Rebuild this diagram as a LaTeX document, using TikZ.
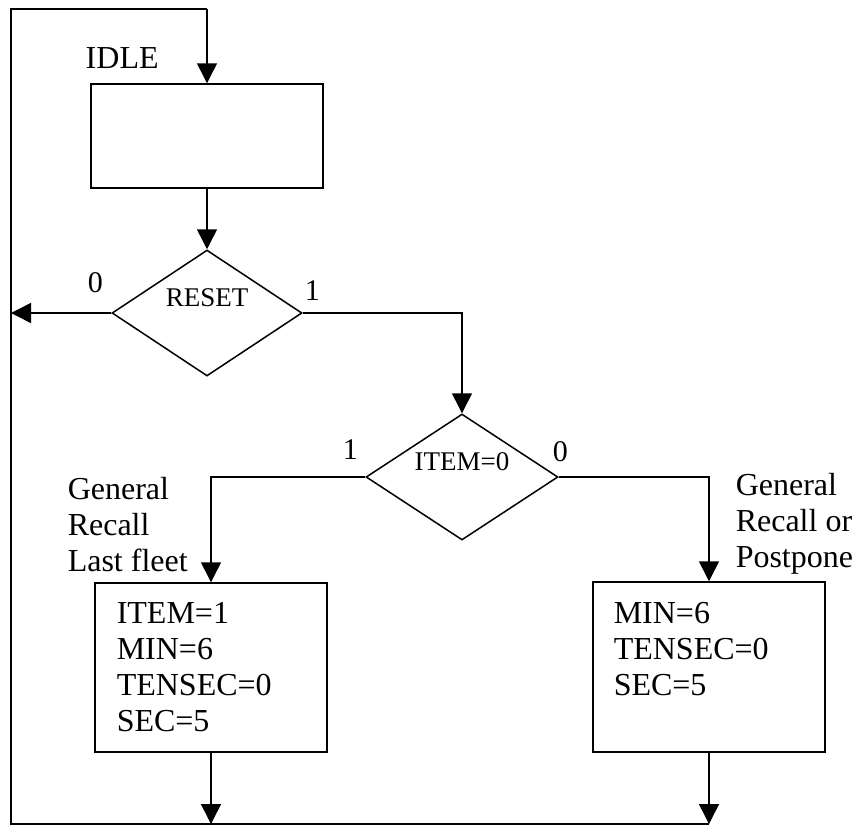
\documentclass[tikz,border=0pt]{standalone}
\usepackage{fontspec}
\setmainfont{Liberation Serif}
\usetikzlibrary{shapes.geometric,arrows.meta}
\begin{document}
\begin{tikzpicture}[x=.5pt,y=-.5pt,line width=.75pt,>={Triangle[length=10pt,width=10pt]},
 font=\fontsize{16}{18}\selectfont,
 state/.style={draw,rectangle,minimum width=116pt,inner sep=0pt},
 decision/.style={draw,diamond,aspect=1.5,inner sep=0pt,minimum width=95pt,
   minimum height=63pt,font=\fontsize{13.5}{16}\selectfont,text depth=15pt},
 note/.style={anchor=base west,inner sep=0pt},
 branch/.style={note,font=\fontsize{15}{18}\selectfont},
 lines/.style={anchor=north west,align=left,inner sep=0pt}]
\useasboundingbox (0,0) rectangle (858,827);
\node[state,minimum height=52pt] (idle) at (207,136) {};
\node[note] (idletxt) at (85,68) {IDLE};
\node[decision] (reset) at (207,313) {RESET};
\node[decision,minimum width=96pt] (item) at (462,477) {ITEM=0};
\node[state,minimum height=84.5pt] (lbox) at (211,667.5) {};
\node[state,minimum height=85pt] (rbox) at (709,667) {};
\node[lines] (ltxt) at (116,602) {ITEM=1\\MIN=6\\TENSEC=0\\SEC=5};
\node[lines] (rtxt) at (613,602) {MIN=6\\TENSEC=0\\SEC=5};
\node[lines] (lnote) at (67,477) {General\\Recall\\Last fleet};
\node[lines] (rnote) at (735,473) {General\\Recall or\\Postpone};
\node[branch] (reset0) at (87,292) {0};
\node[branch] (reset1) at (304,300) {1};
\node[branch] (item1) at (342,459) {1};
\node[branch] (item0) at (552,461) {0};
% loop back to IDLE
\coordinate (tr) at (207,9);
\coordinate (tl) at (11,9);
\coordinate (bl) at (11,824);
\draw (rbox.south |- bl) -- (bl) -- (tl) -- (tr);
\draw[->] (tr) -- (idle.north);
\draw[->] (idle) -- (reset);
\draw[->] (reset.west) -- (reset.west -| tl);
\draw[->] (reset.east) -| (item.north);
\draw[->] (item.west) -| (lbox.north);
\draw[->] (item.east) -| (rbox.north);
\draw[->] (lbox.south) -- (lbox.south |- bl);
\draw[->] (rbox.south) -- (rbox.south |- bl);
\end{tikzpicture}
\end{document}
